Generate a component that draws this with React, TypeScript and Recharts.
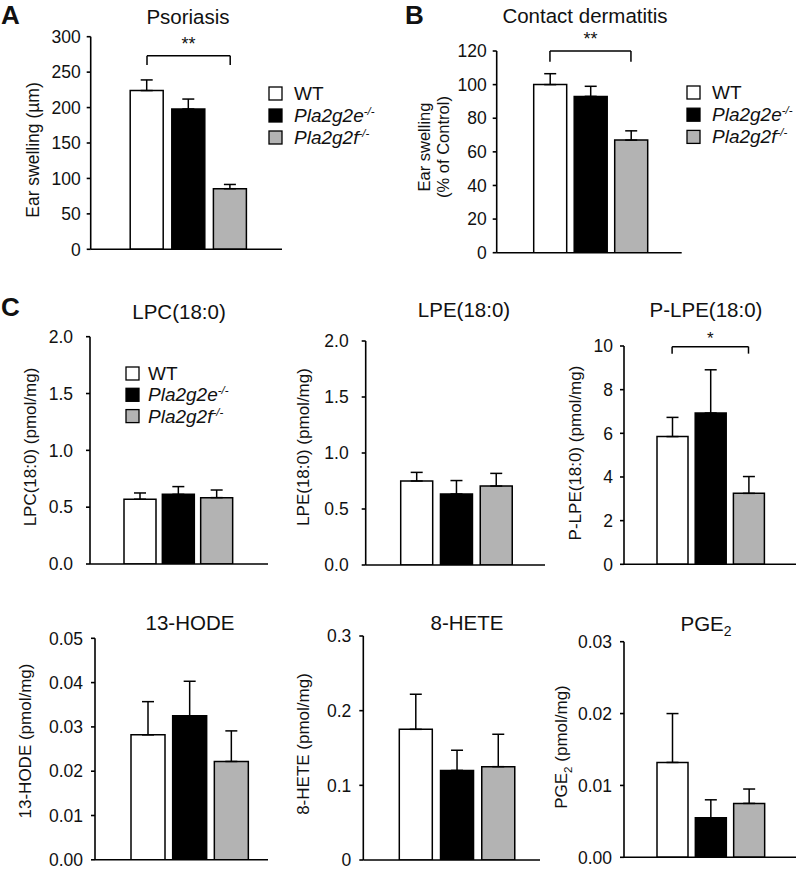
import React from "react";
import {
  BarChart,
  Bar,
  Cell,
  XAxis,
  YAxis,
  ErrorBar,
  ReferenceLine,
  Legend,
} from "recharts";

// groups shown in every panel
const groups = ["WT", "Pla2g2e", "Pla2g2f"];
const groupFills = ["#ffffff", "#000000", "#b3b3b3"];

// A - psoriasis
const psoriasisMean = [224, 198, 85.5];
const psoriasisSem = [15, 14, 6];
const psoriasisTicks = [0, 50, 100, 150, 200, 250, 300];
const psoriasisTickLabels = ["0", "50", "100", "150", "200", "250", "300"];

// B - contact dermatitis
const dermatitisMean = [100, 93, 67];
const dermatitisSem = [6.5, 6, 5.5];
const dermatitisTicks = [0, 20, 40, 60, 80, 100, 120];
const dermatitisTickLabels = ["0", "20", "40", "60", "80", "100", "120"];

// C - lipids
const lpcMean = [0.57, 0.613, 0.584];
const lpcSem = [0.055, 0.068, 0.067];
const lpeMean = [0.75, 0.634, 0.705];
const lpeSem = [0.077, 0.12, 0.113];
const lysoTicks = [0, 0.5, 1, 1.5, 2];
const lysoTickLabels = ["0.0", "0.5", "1.0", "1.5", "2.0"];

const plpeMean = [5.85, 6.93, 3.25];
const plpeSem = [0.88, 1.98, 0.77];
const plpeTicks = [0, 2, 4, 6, 8, 10];
const plpeTickLabels = ["0", "2", "4", "6", "8", "10"];

const hodeMean = [0.0282, 0.0325, 0.0222];
const hodeSem = [0.0075, 0.0078, 0.0069];
const hodeTicks = [0, 0.01, 0.02, 0.03, 0.04, 0.05];
const hodeTickLabels = ["0.00", "0.01", "0.02", "0.03", "0.04", "0.05"];

const heteMean = [0.175, 0.12, 0.125];
const heteSem = [0.047, 0.027, 0.0434];
const heteTicks = [0, 0.1, 0.2, 0.3];
const heteTickLabels = ["0", "0.1", "0.2", "0.3"];

const pgeMean = [0.0132, 0.0055, 0.0075];
const pgeSem = [0.0068, 0.0025, 0.002];
const pgeTicks = [0, 0.01, 0.02, 0.03];
const pgeTickLabels = ["0.00", "0.01", "0.02", "0.03"];

const FONT = '"Liberation Sans", Arial, Helvetica, sans-serif';
const W = 800;
const H = 870;
const Y_W = 60;

type Box = {
  axisX: number;
  top: number;
  bottom: number;
  right: number;
  padL: number;
  padR: number;
  barSize: number;
  tickMargin: number;
};

type Bracket = { y: number; drop: number; stars: string; offset: number; size: number };

type PanelProps = {
  mean: number[];
  sem: number[];
  ticks: number[];
  tickLabels: string[];
  box: Box;
  ylabel: React.ReactElement;
  bracket?: Bracket;
  legendAt?: { left: number; top: number; step: number; textX: number };
};

function AxisTitle({ lines, py, size }: { lines: { text: React.ReactNode; x: number }[]; py: number; size: number }) {
  return (
    <g>
      {lines.map((l, i) => (
        <text
          key={i}
          x={l.x}
          y={py}
          transform={`rotate(-90 ${l.x} ${py})`}
          textAnchor="middle"
          fontSize={size}
          fill="#111"
        >
          {l.text}
        </text>
      ))}
    </g>
  );
}

function GroupName({ i }: { i: number }) {
  if (i === 0) return <tspan>WT</tspan>;
  return (
    <tspan fontStyle="italic">
      {groups[i]}
      <tspan dy={-7} fontSize="0.6em">
        -/-
      </tspan>
    </tspan>
  );
}

function LegendBox({ step, textX }: { step: number; textX: number }) {
  return (
    <svg width={150} height={step * 3 + 6} style={{ overflow: "visible" }}>
      {groups.map((g, i) => (
        <g key={g}>
          <rect
            x={1}
            y={1 + i * step}
            width={13}
            height={13}
            fill={groupFills[i]}
            stroke="#000"
            strokeWidth={1.3}
          />
          <text x={textX} y={14 + i * step} fontSize={19} fill="#111">
            <GroupName i={i} />
          </text>
        </g>
      ))}
    </svg>
  );
}

function Panel({ mean, sem, ticks, tickLabels, box, ylabel, bracket, legendAt }: PanelProps) {
  const rows = groups.map((g, i) => ({ group: g, mean: mean[i], err: [0, sem[i]] }));
  const axisStyle = { stroke: "#000", strokeWidth: 1.6 };
  const children: React.ReactNode[] = [];
  if (bracket) {
    const line = { stroke: "#000", strokeWidth: 1.5, ifOverflow: "visible" as const };
    children.push(
      <ReferenceLine
        key="b0"
        segment={[
          { x: groups[0], y: bracket.y },
          { x: groups[2], y: bracket.y },
        ]}
        {...line}
        label={{ value: bracket.stars, position: "top", offset: bracket.offset, fill: "#111", fontSize: bracket.size }}
      />,
      <ReferenceLine
        key="b1"
        segment={[
          { x: groups[0], y: bracket.y },
          { x: groups[0], y: bracket.drop },
        ]}
        {...line}
      />,
      <ReferenceLine
        key="b2"
        segment={[
          { x: groups[2], y: bracket.y },
          { x: groups[2], y: bracket.drop },
        ]}
        {...line}
      />
    );
  }
  if (legendAt) {
    children.push(
      <Legend
        key="lg"
        layout="horizontal"
        verticalAlign="middle"
        align="center"
        content={() => <LegendBox step={legendAt.step} textX={legendAt.textX} />}
        wrapperStyle={{ left: legendAt.left, top: legendAt.top, width: 150, height: legendAt.step * 3 + 6 }}
      />
    );
  }
  return (
    <div style={{ position: "absolute", left: 0, top: 0 }}>
      <BarChart
        width={W}
        height={H}
        data={rows}
        margin={{
          top: box.top,
          left: box.axisX - Y_W,
          right: W - box.right,
          bottom: H - box.bottom - 1,
        }}
      >
        <XAxis
          dataKey="group"
          tick={false}
          tickLine={false}
          height={1}
          padding={{ left: box.padL, right: box.padR }}
          axisLine={axisStyle}
        />
        <YAxis
          width={Y_W}
          domain={[0, ticks[ticks.length - 1]]}
          ticks={ticks}
          interval={0}
          allowDataOverflow
          tickFormatter={(v: number) => {
            const k = ticks.indexOf(v);
            return k >= 0 ? tickLabels[k] : String(v);
          }}
          tickSize={4}
          tickMargin={box.tickMargin}
          axisLine={axisStyle}
          tickLine={axisStyle}
          tick={{ fill: "#111", fontSize: 17.5 }}
          label={ylabel}
        />
        <Bar dataKey="mean" barSize={box.barSize} stroke="#000" strokeWidth={1.5} isAnimationActive={false}>
          {rows.map((r, i) => (
            <Cell key={r.group} fill={groupFills[i]} />
          ))}
          <ErrorBar dataKey="err" width={6} stroke="#000" strokeWidth={1.5} isAnimationActive={false} />
        </Bar>
        {children}
      </BarChart>
    </div>
  );
}

const Sub2 = () => (
  <tspan dy={5} fontSize="0.68em">
    2
  </tspan>
);

export default function App() {
  return (
    <div
      style={{
        position: "absolute",
        left: 0,
        top: 0,
        width: W,
        height: H,
        background: "#fff",
        fontFamily: FONT,
      }}
    >
      <Panel
        mean={psoriasisMean}
        sem={psoriasisSem}
        ticks={psoriasisTicks}
        tickLabels={psoriasisTickLabels}
        box={{ axisX: 90.7, top: 36.7, bottom: 249.3, right: 282, padL: 35.5, padR: 31, barSize: 33, tickMargin: 6 }}
        ylabel={<AxisTitle py={150} size={17.5} lines={[{ text: "Ear swelling (µm)", x: 39 }]} />}
        bracket={{ y: 273, drop: 260, stars: "**", offset: 6, size: 18 }}
        legendAt={{ left: 267.5, top: 86, step: 22, textX: 26 }}
      />
      <Panel
        mean={dermatitisMean}
        sem={dermatitisSem}
        ticks={dermatitisTicks}
        tickLabels={dermatitisTickLabels}
        box={{ axisX: 496.7, top: 51, bottom: 252.7, right: 681.7, padL: 33, padR: 30.5, barSize: 33, tickMargin: 6 }}
        ylabel={
          <AxisTitle
            py={147}
            size={16.5}
            lines={[
              { text: "Ear swelling", x: 430 },
              { text: "(% of Control)", x: 449 },
            ]}
          />
        }
        bracket={{ y: 120, drop: 113.6, stars: "**", offset: 6, size: 18 }}
        legendAt={{ left: 685.7, top: 85, step: 22.2, textX: 26 }}
      />
      <Panel
        mean={lpcMean}
        sem={lpcSem}
        ticks={lysoTicks}
        tickLabels={lysoTickLabels}
        box={{ axisX: 90, top: 336.7, bottom: 564, right: 268, padL: 31, padR: 32, barSize: 32, tickMargin: 13 }}
        ylabel={<AxisTitle py={447} size={17} lines={[{ text: "LPC(18:0) (pmol/mg)", x: 36 }]} />}
        legendAt={{ left: 125, top: 365.7, step: 21.3, textX: 23 }}
      />
      <Panel
        mean={lpeMean}
        sem={lpeSem}
        ticks={lysoTicks}
        tickLabels={lysoTickLabels}
        box={{ axisX: 365.7, top: 341, bottom: 565, right: 545, padL: 31, padR: 29, barSize: 32, tickMargin: 13 }}
        ylabel={<AxisTitle py={447} size={17} lines={[{ text: "LPE(18:0) (pmol/mg)", x: 309 }]} />}
      />
      <Panel
        mean={plpeMean}
        sem={plpeSem}
        ticks={plpeTicks}
        tickLabels={plpeTickLabels}
        box={{ axisX: 624, top: 346, bottom: 564.3, right: 796, padL: 29, padR: 28.4, barSize: 31, tickMargin: 7 }}
        ylabel={<AxisTitle py={453} size={17} lines={[{ text: "P-LPE(18:0) (pmol/mg)", x: 581 }]} />}
        bracket={{ y: 9.97, drop: 9.65, stars: "*", offset: 3, size: 17 }}
      />
      <Panel
        mean={hodeMean}
        sem={hodeSem}
        ticks={hodeTicks}
        tickLabels={hodeTickLabels}
        box={{ axisX: 95, top: 638.3, bottom: 859.8, right: 268, padL: 32, padR: 16, barSize: 34, tickMargin: 8 }}
        ylabel={<AxisTitle py={741} size={17} lines={[{ text: "13-HODE (pmol/mg)", x: 31 }]} />}
      />
      <Panel
        mean={heteMean}
        sem={heteSem}
        ticks={heteTicks}
        tickLabels={heteTickLabels}
        box={{ axisX: 363.3, top: 636, bottom: 860, right: 540, padL: 32, padR: 21, barSize: 33, tickMargin: 8 }}
        ylabel={<AxisTitle py={744} size={17} lines={[{ text: "8-HETE (pmol/mg)", x: 309 }]} />}
      />
      <Panel
        mean={pgeMean}
        sem={pgeSem}
        ticks={pgeTicks}
        tickLabels={pgeTickLabels}
        box={{ axisX: 624, top: 641.7, bottom: 857.3, right: 796, padL: 29, padR: 28, barSize: 31, tickMargin: 8 }}
        ylabel={
          <AxisTitle
            py={747}
            size={17}
            lines={[
              {
                text: (
                  <>
                    PGE<Sub2 />
                    <tspan dy={-5}> (pmol/mg)</tspan>
                  </>
                ),
                x: 567,
              },
            ]}
          />
        }
      />

      {/* panel letters and titles */}
      <svg
        width={W}
        height={H}
        style={{ position: "absolute", left: 0, top: 0, pointerEvents: "none" }}
      >
        <g fontWeight="bold" fontSize={26} fill="#111">
          <text x={1} y={24}>A</text>
          <text x={405} y={24}>B</text>
          <text x={1} y={316}>C</text>
        </g>
        <g fontSize={20.5} fill="#111" textAnchor="middle">
          <text x={188} y={23.5}>Psoriasis</text>
          <text x={585} y={23}>Contact dermatitis</text>
          <text x={179} y={319}>LPC(18:0)</text>
          <text x={464} y={317}>LPE(18:0)</text>
          <text x={706} y={317}>P-LPE(18:0)</text>
          <text x={190} y={630}>13-HODE</text>
          <text x={467} y={630}>8-HETE</text>
          <text x={706} y={631}>
            PGE<Sub2 />
          </text>
        </g>
      </svg>
    </div>
  );
}
